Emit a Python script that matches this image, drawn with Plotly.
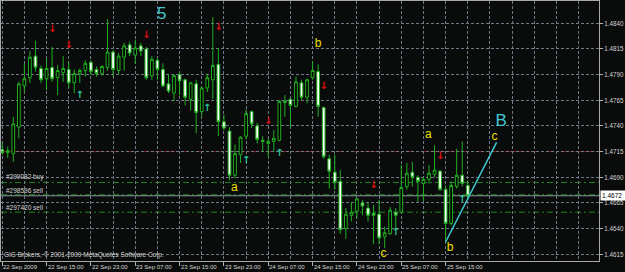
import plotly.graph_objects as go

# ---------------- data (EURUSD H1, 22-25 Sep 2009) ----------------
time_labels = ["22 Sep 2009", "22 Sep 15:00", "22 Sep 23:00", "23 Sep 07:00",
               "23 Sep 15:00", "23 Sep 23:00", "24 Sep 07:00", "24 Sep 15:00",
               "24 Sep 23:00", "25 Sep 07:00", "25 Sep 15:00"]
bars_per_label = 8

opens = [1.4717, 1.4714, 1.4713, 1.4739, 1.4779, 1.4787, 1.4808, 1.4796, 1.4786, 1.4797,
         1.4787, 1.4792, 1.4795, 1.4782, 1.4791, 1.4794, 1.4802, 1.4795, 1.4791, 1.4797,
         1.4812, 1.4794, 1.4807, 1.4819, 1.4809, 1.4818, 1.4815, 1.4789, 1.4804, 1.4795,
         1.4781, 1.4772, 1.4790, 1.4785, 1.4766, 1.4781, 1.4754, 1.4777, 1.4785, 1.4800,
         1.4744, 1.4735, 1.4692, 1.4712, 1.4730, 1.4754, 1.4740, 1.4726, 1.4723, 1.4725,
         1.4726, 1.4764, 1.4766, 1.4759, 1.4782, 1.4768, 1.4787, 1.4793, 1.4758, 1.4708,
         1.4695, 1.4686, 1.4640, 1.4653, 1.4657, 1.4665, 1.4660, 1.4655, 1.4654, 1.4632,
         1.4635, 1.4656, 1.4656, 1.4681, 1.4695, 1.4690, 1.4684, 1.4688, 1.4693, 1.4696,
         1.4678, 1.4645, 1.4681, 1.4692, 1.4682]
highs = [1.4724, 1.4720, 1.4749, 1.4783, 1.4801, 1.4813, 1.4823, 1.4799, 1.4806, 1.4817,
         1.4799, 1.4808, 1.4803, 1.4795, 1.4796, 1.4804, 1.4804, 1.4798, 1.4799, 1.4844,
         1.4814, 1.4811, 1.4821, 1.4822, 1.4824, 1.4821, 1.4817, 1.4808, 1.4806, 1.4801,
         1.4790, 1.4790, 1.4793, 1.4786, 1.4783, 1.4785, 1.4778, 1.4791, 1.4846, 1.4816,
         1.4751, 1.4739, 1.4722, 1.4730, 1.4756, 1.4755, 1.4743, 1.4730, 1.4728, 1.4736,
         1.4765, 1.4770, 1.4767, 1.4788, 1.4785, 1.4786, 1.4803, 1.4800, 1.4759, 1.4712,
         1.4712, 1.4697, 1.4660, 1.4666, 1.4670, 1.4668, 1.4665, 1.4663, 1.4668, 1.4642,
         1.4661, 1.4660, 1.4702, 1.4704, 1.4705, 1.4692, 1.4690, 1.4702, 1.4721, 1.4697,
         1.4682, 1.4686, 1.4718, 1.4725, 1.4687]
lows = [1.4712, 1.4709, 1.4705, 1.4728, 1.4773, 1.4782, 1.4793, 1.4782, 1.4775, 1.4783,
        1.4770, 1.4783, 1.4777, 1.4772, 1.4782, 1.4788, 1.4790, 1.4788, 1.4789, 1.4794,
        1.4788, 1.4790, 1.4794, 1.4808, 1.4801, 1.4808, 1.4785, 1.4785, 1.4785, 1.4778,
        1.4772, 1.4764, 1.4770, 1.4760, 1.4755, 1.4733, 1.4749, 1.4773, 1.4766, 1.4730,
        1.4736, 1.4687, 1.4689, 1.4704, 1.4727, 1.4738, 1.4723, 1.4715, 1.4710, 1.4715,
        1.4725, 1.4749, 1.4739, 1.4758, 1.4765, 1.4762, 1.4785, 1.4749, 1.4708, 1.4679,
        1.4678, 1.4635, 1.4630, 1.4647, 1.4650, 1.4653, 1.4647, 1.4625, 1.4625, 1.4621,
        1.4634, 1.4640, 1.4655, 1.4678, 1.4681, 1.4666, 1.4667, 1.4684, 1.4690, 1.4677,
        1.4627, 1.4643, 1.4679, 1.4681, 1.4668]
closes = [1.4714, 1.4716, 1.4742, 1.4781, 1.4786, 1.4807, 1.4797, 1.4785, 1.4796, 1.4786,
          1.4794, 1.4796, 1.4782, 1.4791, 1.4794, 1.4801, 1.4793, 1.4791, 1.4798, 1.4812,
          1.4795, 1.4808, 1.4818, 1.4811, 1.4816, 1.4813, 1.4787, 1.4805, 1.4795, 1.4779,
          1.4774, 1.4789, 1.4784, 1.4768, 1.4782, 1.4753, 1.4777, 1.4787, 1.4799, 1.4744,
          1.4738, 1.4692, 1.4713, 1.4729, 1.4752, 1.4742, 1.4727, 1.4725, 1.4725, 1.4728,
          1.4764, 1.4763, 1.4760, 1.4783, 1.4768, 1.4785, 1.4794, 1.4759, 1.4710, 1.4696,
          1.4685, 1.4639, 1.4654, 1.4656, 1.4669, 1.4662, 1.4653, 1.4653, 1.4631, 1.4636,
          1.4658, 1.4653, 1.4680, 1.4694, 1.4690, 1.4686, 1.4688, 1.4694, 1.4697, 1.4678,
          1.4645, 1.4682, 1.4692, 1.4684, 1.4672]

# fractal arrows (bar index, price)
down_bars = [9, 12, 26, 39, 48, 58, 67, 79]
down_prices = [1.4834, 1.4818, 1.4828, 1.4836, 1.4744, 1.4778, 1.4682, 1.4710]
up_bars = [14, 37, 44, 50, 71, 83]
up_prices = [1.4770, 1.4757, 1.4706, 1.4713, 1.4636, 1.4668]

# Elliott wave labels
major_wave_text = ["5", "B"]
major_wave_x = [28.8, 90.0]
major_wave_y = [1.4848, 1.4744]
minor_wave_text = ["a", "b", "c", "a", "b", "c"]
minor_wave_x = [41.9, 57.0, 68.8, 76.9, 80.8, 88.8]
minor_wave_y = [1.4680, 1.4820, 1.4615, 1.4731, 1.4621, 1.4729]

# trend line b -> c
trend_x = [80.0, 89.2]
trend_y = [1.4627, 1.4724]

# trade levels
order_labels = ["#299082 buy", "#298596 sell", "#297420 sell"]
order_prices = [1.4685, 1.4673, 1.4656]
stop_price = 1.4715
bid_price = 1.4672

price_ticks = [1.4615, 1.4640, 1.4665, 1.4690, 1.4715, 1.4740, 1.4765, 1.4790, 1.4815, 1.4840]
copyright_text = "GIG Brokers, © 2001-2009 MetaQuotes Software Corp."

# ---------------- styling ----------------
BG = "#0a0b0b"
GREEN = "#21b021"
GRID = "#6f7884"
FG = "#d4d4d4"
CYAN = "#40c8d2"
YELLOW = "#ece000"
FONT = "Liberation Sans"

bars = list(range(len(opens)))
n_slots = 108

fig = go.Figure()

# horizontal trade lines (between grid and candles)
shapes = []
for p in order_prices:
    shapes.append(dict(type="line", xref="paper", x0=0, x1=1, yref="y", y0=p, y1=p,
                       line=dict(color="#1c8a1c", width=1, dash="6px,3px,2px,3px"),
                       layer="between"))
shapes.append(dict(type="line", xref="paper", x0=0, x1=1, yref="y", y0=stop_price, y1=stop_price,
                   line=dict(color="#8a1414", width=1, dash="6px,3px,2px,3px"), layer="between"))
shapes.append(dict(type="line", xref="paper", x0=0, x1=1, yref="y", y0=bid_price, y1=bid_price,
                   line=dict(color="#8e98a4", width=1), layer="between"))

fig.add_trace(go.Candlestick(
    x=bars, open=opens, high=highs, low=lows, close=closes,
    increasing=dict(line=dict(color=GREEN, width=1), fillcolor="#000000"),
    decreasing=dict(line=dict(color=GREEN, width=1), fillcolor="#ffffff"),
    whiskerwidth=0, showlegend=False, hoverinfo="skip"))

fig.add_trace(go.Scatter(x=down_bars, y=down_prices, mode="text", text=["↓"] * len(down_bars),
                         textfont=dict(family="DejaVu Sans", size=10, color="#e01010", weight="bold"),
                         showlegend=False, hoverinfo="skip"))
fig.add_trace(go.Scatter(x=up_bars, y=up_prices, mode="text", text=["↑"] * len(up_bars),
                         textfont=dict(family="DejaVu Sans", size=10, color="#30c495", weight="bold"),
                         showlegend=False, hoverinfo="skip"))

fig.add_trace(go.Scatter(x=trend_x, y=trend_y, mode="lines", line=dict(color=CYAN, width=1.5),
                         showlegend=False, hoverinfo="skip"))

fig.add_trace(go.Scatter(x=major_wave_x, y=major_wave_y, mode="text", text=major_wave_text,
                         textfont=dict(family=FONT, size=17, color=CYAN),
                         showlegend=False, hoverinfo="skip"))
fig.add_trace(go.Scatter(x=minor_wave_x, y=minor_wave_y, mode="text", text=minor_wave_text,
                         textfont=dict(family=FONT, size=12, color=YELLOW),
                         showlegend=False, hoverinfo="skip"))

label_pos = [i * bars_per_label for i in range(len(time_labels))]
minor_pos = [v for v in range(0, n_slots, 4) if v not in label_pos]

annotations = []
for lbl, p in zip(order_labels, order_prices):
    annotations.append(dict(text=lbl, xref="paper", x=0.006, xanchor="left", yref="y", y=p,
                            yanchor="bottom", showarrow=False, borderpad=0,
                            font=dict(family=FONT, size=6.5, color=FG)))
annotations.append(dict(text=copyright_text, xref="paper", x=0.004, xanchor="left",
                        yref="paper", y=0.023, yanchor="middle", showarrow=False, borderpad=0,
                        font=dict(family=FONT, size=6.5, color=FG)))
annotations.append(dict(text=f"{bid_price:.4f} ", xref="paper", x=1, xanchor="left", xshift=1,
                        yref="y", y=bid_price, yanchor="middle", showarrow=False,
                        bgcolor="#ffffff", borderpad=1,
                        font=dict(family=FONT, size=6.5, color="#000000")))
# time labels, left-aligned at their tick like MetaTrader
for lbl, pos in zip(time_labels, label_pos):
    annotations.append(dict(text=lbl, xref="x", x=pos, xanchor="left", xshift=0,
                            yref="paper", y=-0.022, yanchor="middle", showarrow=False,
                            borderpad=0, font=dict(family=FONT, size=6, color=FG)))

fig.update_layout(
    width=625, height=272,
    margin=dict(l=1, r=26, t=1, b=11, autoexpand=False),
    paper_bgcolor=BG, plot_bgcolor=BG,
    shapes=shapes, annotations=annotations,
    xaxis=dict(range=[-0.2165, 107.67], rangeslider=dict(visible=False),
               tickmode="array", tickvals=label_pos, showticklabels=False,
               ticks="outside", ticklen=4, tickcolor="#b0b0b0",
               showgrid=True, gridcolor=GRID, griddash="3px,2px", gridwidth=1,
               minor=dict(tickvals=minor_pos, showgrid=True, gridcolor=GRID,
                          griddash="3px,2px", ticklen=0),
               showline=True, linecolor="#a8a8a8", linewidth=1, mirror=True,
               zeroline=False, fixedrange=True),
    yaxis=dict(range=[1.460848, 1.486172], side="right",
               tickmode="array", tickvals=price_ticks,
               ticktext=[f"{v:.4f}" for v in price_ticks],
               ticks="outside", ticklen=3, tickcolor="#b0b0b0",
               tickfont=dict(family=FONT, size=6.3, color=FG),
               showgrid=True, gridcolor=GRID, griddash="3px,2px", gridwidth=1,
               showline=True, linecolor="#a8a8a8", linewidth=1, mirror=True,
               zeroline=False, fixedrange=True),
)

fig.write_html("out.html", config={"displayModeBar": False})
